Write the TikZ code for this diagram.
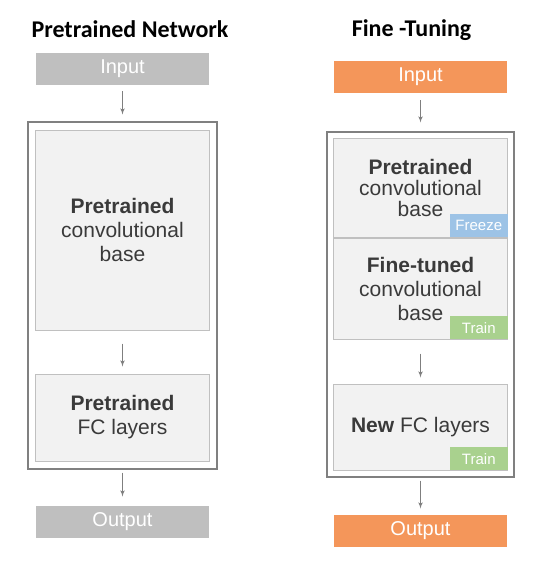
\documentclass[tikz,border=0pt]{standalone}
\usepackage{fontspec}
\setmainfont{Liberation Sans}
\newfontfamily\titlefont{Carlito}
\usepackage{tikz}
\usetikzlibrary{arrows,positioning,fit}
\definecolor{iogray}{HTML}{BFBFBF}
\definecolor{ioorange}{HTML}{F4965A}
\definecolor{layerfill}{HTML}{F2F2F2}
\definecolor{layerline}{HTML}{C0C0C0}
\definecolor{framegray}{HTML}{808080}
\definecolor{arrowgray}{HTML}{7F7F7F}
\definecolor{textgray}{HTML}{3A3A3A}
\definecolor{freezeblue}{HTML}{9DC3E6}
\definecolor{traingreen}{HTML}{A9D18E}

\begin{document}
\begin{tikzpicture}
[x=1pt, y=1pt, >=latex',
title/.style = {font=\titlefont\bfseries\fontsize{24}{24}\selectfont},
io/.style = {shape=rectangle, minimum width=173pt, minimum height=32pt,
  inner sep=0pt, text=white, font=\fontsize{20}{20}\selectfont},
layer/.style = {draw=layerline, fill=layerfill, line width=1pt,
  minimum width=174pt, inner sep=0pt, align=center, text=textgray,
  font=\fontsize{21}{24}\selectfont},
badge/.style = {shape=rectangle, anchor=south east, minimum width=58pt,
  minimum height=23pt, inner sep=0pt, text=white, font=\fontsize{15}{15}\selectfont},
frame/.style = {draw=framegray, line width=2pt, inner sep=7pt},
flow/.style = {->, draw=arrowgray, line width=1.1pt, shorten >=7pt}]
\useasboundingbox (0,0) rectangle (554,-575);

% pretrained network
\node [title] (t1) at (130,-29) {Pretrained Network};
\node [io, fill=iogray] (in1) at (122.5,-69) {Input};
\node [layer, minimum height=200pt] (conv1) at (122.5,-230)
  {\textbf{Pretrained}\\convolutional\\base};
\node [layer, minimum height=87pt, below=43pt of conv1] (fc1)
  {\textbf{Pretrained}\\FC layers};
\node [frame, fit=(conv1)(fc1)] (net1) {};
\node [io, fill=iogray, below=36pt of net1] (out1) {Output};

\draw [flow, shorten <=6pt] (in1) -- (net1);
\draw [flow, shorten <=13pt] (conv1) -- (fc1);
\draw [flow, shorten <=3pt, shorten >=9pt] (net1) -- (out1);

% fine-tuning
\node [title] (t2) at (411.5,-30) {Fine -Tuning};
\node [io, fill=ioorange] (in2) at (420.5,-77) {Input};
\node [layer, minimum height=99pt, font=\fontsize{21}{21}\selectfont] (conv2)
  at (420.5,-187.5) {\textbf{Pretrained}\\convolutional\\base};
\node [layer, minimum height=101pt, below=0pt of conv2] (tune2)
  {\textbf{Fine-tuned}\\convolutional\\base};
\node [layer, minimum height=86pt, below=44pt of tune2] (fc2)
  {\textbf{New} FC layers};
\node [badge, fill=freezeblue] (freeze2) at (conv2.south east) {Freeze};
\node [badge, fill=traingreen] (train2) at (tune2.south east) {Train};
\node [badge, fill=traingreen] (train3) at (fc2.south east) {Train};
\node [frame, inner sep=6pt, fit=(conv2)(tune2)(fc2)] (net2) {};
\node [io, fill=ioorange, below=37pt of net2] (out2) {Output};

\draw [flow, shorten <=7pt, shorten >=8pt] (in2) -- (net2);
\draw [flow, shorten <=14pt, shorten >=6pt] (tune2) -- (fc2);
\draw [flow, shorten <=3pt, shorten >=6pt] (net2) -- (out2);

\end{tikzpicture}
\end{document}
